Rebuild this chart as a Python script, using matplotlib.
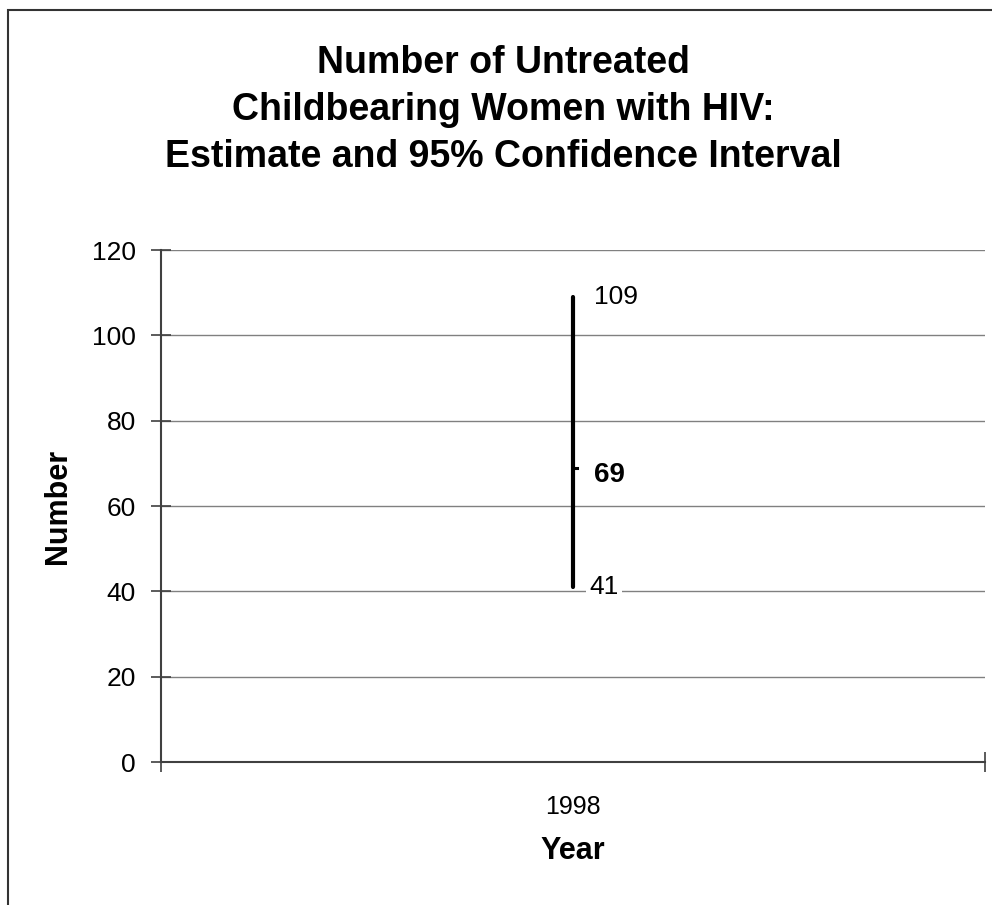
import matplotlib
matplotlib.use("Agg")
import matplotlib.pyplot as plt
from matplotlib.patches import Rectangle

plt.rcParams['font.family'] = ['Liberation Sans', 'DejaVu Sans']

# Data
years = ["1998"]
estimate = [69]
lower = [41]
upper = [109]
y_ticks = [0, 20, 40, 60, 80, 100, 120]

fig = plt.figure(figsize=(9.92, 9.05), dpi=100)
ax = fig.add_axes([161/992, 1 - 762/905, (985 - 161)/992, (762 - 250)/905])

x = list(range(len(years)))

# Confidence interval bar and estimate tick
for i in x:
    ax.plot([i, i], [lower[i], upper[i]], color='black', lw=3, solid_capstyle='round', zorder=3)
    ax.plot([i, i + 0.005], [estimate[i], estimate[i]], color='black', lw=2.2, zorder=3)
    ax.text(i + 0.026, upper[i], str(upper[i]), fontsize=19, va='center', ha='left')
    ax.text(i + 0.026, estimate[i] - 1.8, str(estimate[i]), fontsize=20, fontweight='bold',
            va='center', ha='left')
    ax.text(i + 0.02, lower[i], str(lower[i]), fontsize=19, va='center', ha='left',
            bbox=dict(facecolor='white', edgecolor='none', pad=2.5), zorder=4)

ax.set_xlim(-0.5, len(years) - 0.5)
ax.set_ylim(0, 120)
ax.set_yticks(y_ticks)
ax.set_yticklabels([str(v) for v in y_ticks], fontsize=19)
ax.yaxis.grid(True, color='#808080', lw=1)
ax.set_axisbelow(True)

# category boundaries as major ticks, labels as minor ticks
ax.set_xticks([i - 0.5 for i in range(len(years) + 1)])
ax.set_xticklabels([])
ax.set_xticks(x, minor=True)
ax.set_xticklabels(years, minor=True, fontsize=18)
ax.tick_params(axis='x', which='minor', length=0, pad=24)
ax.tick_params(axis='x', which='major', direction='inout', length=14, width=1.2, color='#404040')
ax.tick_params(axis='y', direction='inout', length=14, width=1.2, color='#404040', pad=11)

for s in ['top', 'right']:
    ax.spines[s].set_visible(False)
for s in ['left', 'bottom']:
    ax.spines[s].set_color('#404040')
    ax.spines[s].set_linewidth(1.5)

ax.set_xlabel("Year", fontsize=22, fontweight='bold', labelpad=12)
ax.set_ylabel("Number", fontsize=22, fontweight='bold', labelpad=14)

fig.text(503/992, 1 - 110/905,
         "Number of Untreated\nChildbearing Women with HIV:\nEstimate and 95% Confidence Interval",
         ha='center', va='center', fontsize=27, fontweight='bold', linespacing=1.39)

# outer chart border (only left and top fall inside the image)
fig.patches.append(Rectangle((7.5/992, -0.05), 1.2, 1.05 - 10/905, transform=fig.transFigure,
                             fill=False, edgecolor='#333333', lw=1.5))

fig.savefig("out.png", dpi=100)
